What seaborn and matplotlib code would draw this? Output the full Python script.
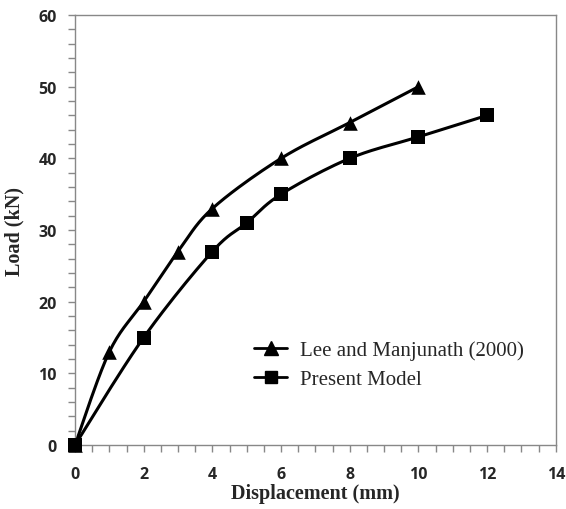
import numpy as np
import pandas as pd
import matplotlib
matplotlib.use("Agg")
import matplotlib.pyplot as plt
import seaborn as sns
from matplotlib.ticker import MultipleLocator
from matplotlib.lines import Line2D

lee_x = [0, 1, 2, 3, 4, 6, 8, 10]
lee_y = [0, 13, 20, 27, 33, 40, 45, 50]
pm_x = [0, 2, 4, 5, 6, 8, 10, 12]
pm_y = [0, 15, 27, 31, 35, 40, 43, 46]
labels = ["Lee and Manjunath (2000)", "Present Model"]


def smooth(x, y, n=20):
    # Catmull-Rom style smoothing (like Excel smoothed lines)
    x = np.asarray(x, float); y = np.asarray(y, float)
    px = np.concatenate([[x[0]], x, [x[-1]]])
    py = np.concatenate([[y[0]], y, [y[-1]]])
    xs, ys = [], []
    for i in range(1, len(px) - 2):
        p0 = np.array([px[i-1], py[i-1]]); p1 = np.array([px[i], py[i]])
        p2 = np.array([px[i+1], py[i+1]]); p3 = np.array([px[i+2], py[i+2]])
        c1 = p1 + (p2 - p0) / 6.0
        c2 = p2 - (p3 - p1) / 6.0
        t = np.linspace(0, 1, n)[:, None]
        b = ((1-t)**3)*p1 + 3*((1-t)**2)*t*c1 + 3*(1-t)*t**2*c2 + t**3*p2
        xs.extend(b[:, 0]); ys.extend(b[:, 1])
    return np.array(xs), np.array(ys)


sns.set_style("white")
fig = plt.figure(figsize=(5.66, 5.10), dpi=100)
ax = fig.add_axes([0.1325, 0.1255, 0.8495, 0.843])

for xs, ys, mk in [(lee_x, lee_y, "^"), (pm_x, pm_y, "s")]:
    sx, sy = smooth(xs, ys)
    sns.lineplot(x=sx, y=sy, ax=ax, color="black", lw=2.2, sort=False,
                 estimator=None)
    pts = sns.scatterplot(x=xs, y=ys, ax=ax, color="black", marker=mk, s=110,
                          edgecolor="black", linewidth=0, zorder=5)
for c in ax.collections:
    c.set_clip_on(False)

ax.set_xlim(0, 14)
ax.set_ylim(0, 60)
ax.xaxis.set_major_locator(MultipleLocator(2))
ax.xaxis.set_minor_locator(MultipleLocator(0.5))
ax.yaxis.set_major_locator(MultipleLocator(10))
ax.yaxis.set_minor_locator(MultipleLocator(2))
ax.tick_params(which="both", direction="out", color="#888888", width=1,
               length=5, bottom=True, left=True, top=False, right=False)
for s in ax.spines.values():
    s.set_color("#888888")
    s.set_linewidth(1)

for lab in ax.get_xticklabels() + ax.get_yticklabels():
    lab.set_family("Open Sans")
    lab.set_fontweight("bold")
    lab.set_fontsize(11.5)
ax.tick_params(axis="x", pad=10)
ax.tick_params(axis="y", pad=8)

ax.set_xlabel("Displacement (mm)", family="Liberation Serif", fontweight="bold",
              fontsize=14.5, labelpad=1)
ax.set_ylabel("Load (kN)", family="Liberation Serif", fontweight="bold",
              fontsize=14.5, labelpad=10)

handles = [Line2D([], [], color="black", lw=2, marker="^", markersize=10),
           Line2D([], [], color="black", lw=2, marker="s", markersize=9)]
ax.legend(handles, labels, loc="upper left", bbox_to_anchor=(0.355, 0.262),
          frameon=False, prop={"family": "Liberation Serif", "size": 15},
          handlelength=1.6, handletextpad=0.6, labelspacing=0.45,
          borderaxespad=0)

fig.savefig("out.png", dpi=100)
